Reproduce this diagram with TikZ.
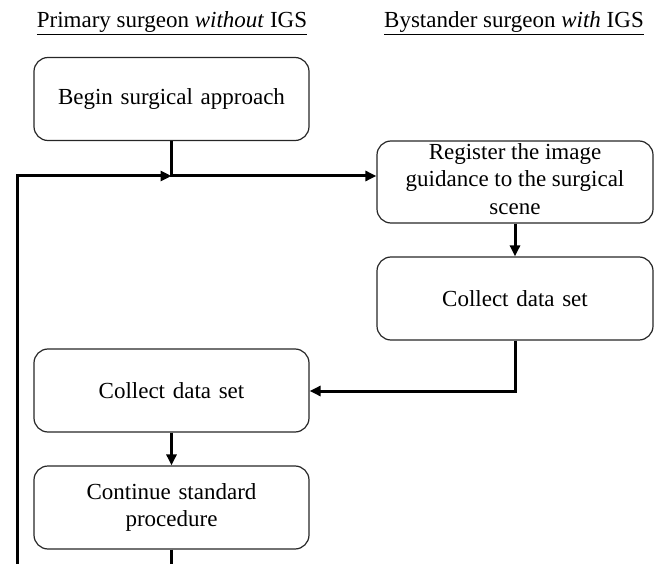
\documentclass[tikz,border=0pt]{standalone}
\usepackage{fontspec}
\setmainfont{Liberation Serif}
\usetikzlibrary{arrows.meta}
\tikzset{
  box/.style={draw=black!85, line width=1.2pt, rounded corners=14pt, minimum width=275pt, minimum height=83pt, align=center, text width=250pt, inner sep=0pt, font=\fontsize{23}{27.5}\selectfont},
  head/.style={anchor=base, inner sep=0pt, font=\fontsize{23}{27.5}\selectfont},
  conn/.style={line width=3pt},
  arr/.style={conn, -{Triangle[length=11pt,width=10pt]}}
}
\begin{document}
\begin{tikzpicture}[x=1pt,y=-1pt]
\useasboundingbox (0,0) rectangle (664,564);
\node[head] (h1) at (172,28) {\underline{Primary surgeon \textit{without} IGS}};
\node[head] (h2) at (514,28) {\underline{Bystander surgeon \textit{with} IGS}};
\node[box] (begin) at (171.5,99) {Begin surgical approach};
\node[box, minimum width=276pt, minimum height=82pt] (reg) at (515,182) {};
\node[align=center, inner sep=0pt, font=\fontsize{23}{27.5}\selectfont] (regt) at ([yshift=3pt]reg.center) {Register the image\\guidance to the surgical\\scene};
\node[box, minimum width=276pt] (cr) at (515,298.5) {Collect data set};
\node[box] (cl) at (171.5,390.5) {Collect data set};
\node[box] (cont) at (171.5,507.5) {Continue standard\\procedure};
\coordinate (j) at (171.5,176);
\coordinate (bl) at (17,564);
\coordinate (bc) at (171.5,564);
\coordinate (k) at (515,391);
\draw[arr] (begin.south) -- (j) -- (j -| reg.west);
\draw[arr] (bl) -- (bl |- j) -- (j);
\draw[arr] (reg.south) -- (cr.north);
\draw[arr] (cr.south) -- (k) -- (k -| cl.east);
\draw[arr] (cl.south) -- (cont.north);
\draw[conn] (cont.south) -- (bc);
\end{tikzpicture}
\end{document}
